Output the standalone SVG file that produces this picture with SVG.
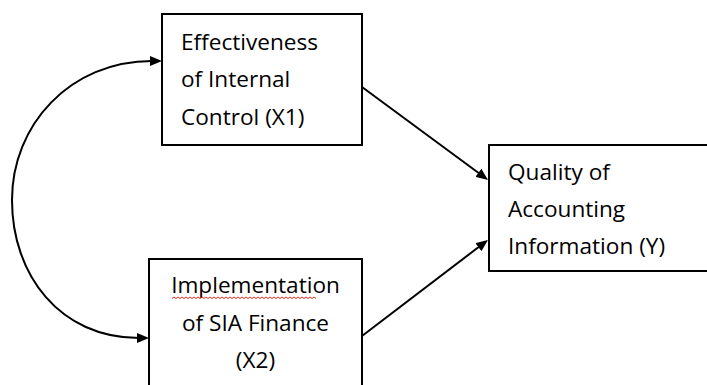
<svg xmlns="http://www.w3.org/2000/svg" width="707" height="385" viewBox="0 0 707 385">
<style>
.box{fill:#fff;stroke:#000;stroke-width:2}
.t{font-family:"Open Sans","Noto Sans",sans-serif;font-size:22.6px;fill:#000}
.c{fill:none;stroke:#000;stroke-width:2}
.sq{fill:none;stroke:#e02828;stroke-width:1}
</style>
<defs>
<marker id="ah" markerUnits="userSpaceOnUse" markerWidth="12" markerHeight="10" refX="2" refY="5" orient="auto-start-reverse" viewBox="0 0 12 10">
<path d="M0,0 L12,5 L0,10 z" fill="#000"/>
</marker>
</defs>
<rect width="707" height="385" fill="#fff"/>
<g id="connectors">
<path class="c" d="M152,61 C70,61 12,125 12,200 C12,275 60,338 139,338" marker-start="url(#ah)" marker-end="url(#ah)"/>
<path class="c" d="M362,87 L480,174" marker-end="url(#ah)"/>
<path class="c" d="M362,336 L480,246" marker-end="url(#ah)"/>
</g>
<g id="x1">
<rect class="box" x="162" y="14" width="200" height="131"/>
<text class="t" x="181" y="50">Effectiveness</text>
<text class="t" x="181" y="87">of Internal</text>
<text class="t" x="181" y="125">Control (X1)</text>
</g>
<g id="x2">
<rect class="box" x="149" y="259" width="213" height="140"/>
<text class="t" x="255.5" y="293" text-anchor="middle">Implementation</text>
<path class="sq" d="M172,298.5 l2,-1.5 l2,1.5 l2,-1.5 l2,1.5 l2,-1.5 l2,1.5 l2,-1.5 l2,1.5 l2,-1.5 l2,1.5 l2,-1.5 l2,1.5 l2,-1.5 l2,1.5 l2,-1.5 l2,1.5 l2,-1.5 l2,1.5 l2,-1.5 l2,1.5 l2,-1.5 l2,1.5 l2,-1.5 l2,1.5 l2,-1.5 l2,1.5 l2,-1.5 l2,1.5 l2,-1.5 l2,1.5 l2,-1.5 l2,1.5 l2,-1.5 l2,1.5 l2,-1.5 l2,1.5 l2,-1.5 l2,1.5 l2,-1.5 l2,1.5 l2,-1.5 l2,1.5 l2,-1.5 l2,1.5 l2,-1.5 l2,1.5 l2,-1.5 l2,1.5 l2,-1.5 l2,1.5 l2,-1.5 l2,1.5 l2,-1.5 l2,1.5 l2,-1.5 l2,1.5 l2,-1.5 l2,1.5 l2,-1.5 l2,1.5 l2,-1.5 l2,1.5 l2,-1.5 l2,1.5 l2,-1.5 l2,1.5 l2,-1.5 l2,1.5 l2,-1.5 l2,1.5 l2,-1.5 l2,1.5"/>
<text class="t" x="255.5" y="331" text-anchor="middle">of SIA Finance</text>
<text class="t" x="255.5" y="368" text-anchor="middle">(X2)</text>
</g>
<g id="y">
<rect class="box" x="489" y="145" width="240" height="126"/>
<text class="t" x="508" y="180">Quality of</text>
<text class="t" x="508" y="217">Accounting</text>
<text class="t" x="508" y="254">Information (Y)</text>
</g>
</svg>
